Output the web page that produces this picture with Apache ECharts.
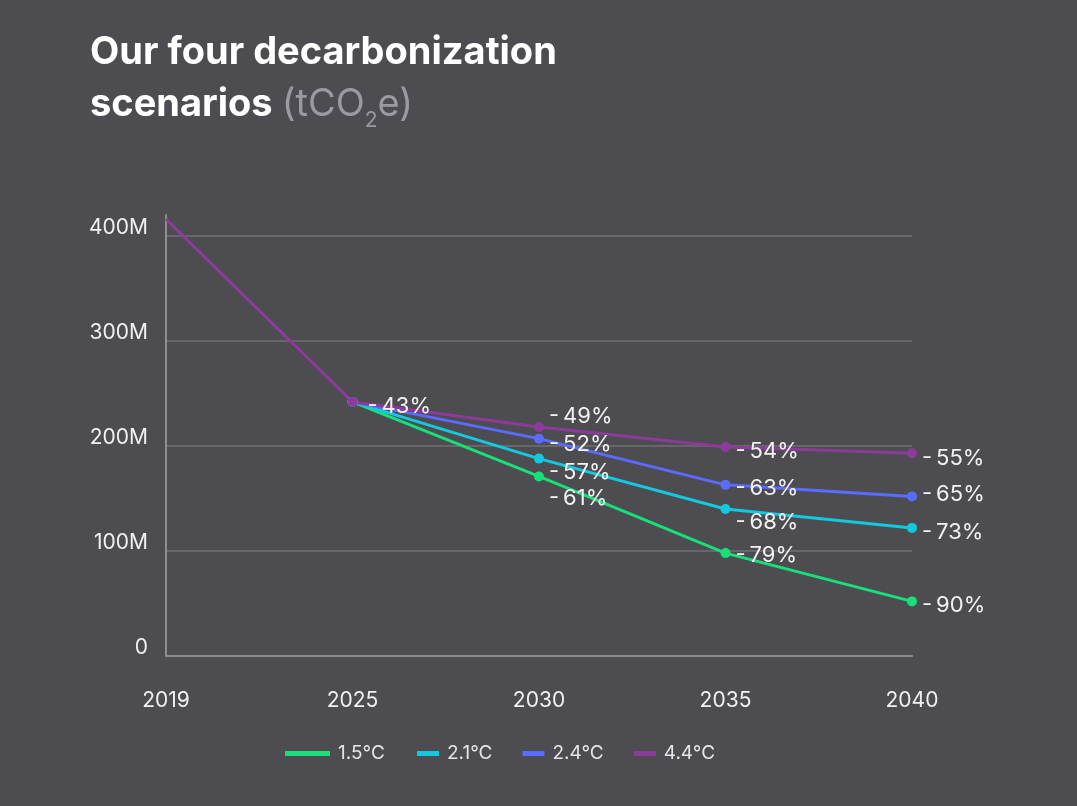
<!DOCTYPE html>
<html>
<head>
<meta charset="utf-8">
<script src="https://cdn.jsdelivr.net/npm/echarts@6/dist/echarts.min.js"></script>
<style>
  html, body { margin: 0; padding: 0; background: #4d4c51; }
  #chart { width: 1077px; height: 806px; }
</style>
</head>
<body>
<div id="chart"></div>
<script>
// data (million tCO2e)
const years = ['2019', '2025', '2030', '2035', '2040'];
const s15 = [null, 242, 171, 98, 52];
const s21 = [null, 242, 188, 140, 122];
const s24 = [null, 242, 207, 163, 152];
const s44 = [416, 242, 218, 199, 193];
const lbl15 = ['', '', '-61%', '-79%', '-90%'];
const lbl21 = ['', '', '-57%', '-68%', '-73%'];
const lbl24 = ['', '', '-52%', '-63%', '-65%'];
const lbl44 = ['', '-43%', '-49%', '-54%', '-55%'];
const yTicks = [0, 100, 200, 300, 400];

// label nudges (px) so the crowded 2030 / 2035 labels stack like the original
const nudge15 = [0, 0, 22, 2, 4];
const nudge21 = [0, 0, 14, 13, 4];
const nudge24 = [0, 0, 6, 4, -2];
const nudge44 = [0, 4, -11, 4, 5];

const FONT = 'Inter, "Noto Sans", sans-serif';

function makeSeries(name, color, values, labels, nudge) {
  return {
    name: name,
    type: 'line',
    color: color,
    symbol: 'circle',
    symbolSize: 10,
    lineStyle: { width: 3, color: color },
    itemStyle: { color: color },
    data: values.map((v, i) => ({
      value: v,
      symbol: i === 0 ? 'none' : 'circle',
      label: { offset: [i === 1 ? 5 : 0, nudge[i]] }
    })),
    label: {
      show: true,
      position: 'right',
      distance: 5,
      color: '#f2f2f2',
      fontFamily: FONT,
      fontSize: 22,
      // the hyphen sits a little apart from the number in the original
      formatter: p => labels[p.dataIndex].replace('-', '-\u2009')
    },
    emphasis: { disabled: true }
  };
}

const chart = echarts.init(document.getElementById('chart'));

const legendText = { color: '#e6e6e6', fontFamily: FONT, fontSize: 19, padding: [0, 0, 0, 3] };

chart.setOption({
  backgroundColor: '#4d4c51',
  animation: false,
  title: {
    left: 85,
    top: 22,
    text: '{a|Our four decarbonization}\n{a|scenarios }{b|(tCO}{s|2}{b|e)}',
    textStyle: {
      rich: {
        a: { fontFamily: FONT, fontSize: 38, fontWeight: 'bold', color: '#ffffff', lineHeight: 52 },
        b: { fontFamily: FONT, fontSize: 38, fontWeight: 'normal', color: '#9b9aa0', lineHeight: 52 },
        s: { fontFamily: FONT, fontSize: 21, fontWeight: 'normal', color: '#9b9aa0', lineHeight: 20, verticalAlign: 'bottom' }
      }
    }
  },
  legend: [
    {
      data: ['1.5°C'],
      left: 285,
      top: 744,
      padding: 0,
      icon: 'rect',
      itemWidth: 45,
      itemHeight: 5,
      textStyle: legendText,
      selectedMode: false
    },
    {
      data: ['2.1°C', '2.4°C', '4.4°C'],
      left: 417,
      top: 744,
      padding: 0,
      icon: 'rect',
      itemWidth: 22,
      itemHeight: 5,
      itemGap: 30,
      textStyle: legendText,
      selectedMode: false
    }
  ],
  grid: { left: 166, right: 165, top: 215, bottom: 150, containLabel: false },
  xAxis: {
    type: 'category',
    data: years,
    boundaryGap: false,
    axisLine: { lineStyle: { color: '#8e8d92', width: 2 } },
    axisTick: { show: false },
    axisLabel: { color: '#f0f0f0', fontFamily: FONT, fontSize: 21, margin: 34 },
    splitLine: { show: false }
  },
  yAxis: {
    type: 'value',
    min: 0,
    max: 420,
    interval: 100,
    axisLine: { show: true, lineStyle: { color: '#8e8d92', width: 2 } },
    axisTick: { show: false },
    axisLabel: {
      color: '#f0f0f0',
      fontFamily: FONT,
      fontSize: 21,
      margin: 18,
      // labels sit a little above their grid line in the original
      verticalAlign: 'bottom',
      lineHeight: 16,
      formatter: v => yTicks.indexOf(v) < 0 ? '' : (v === 0 ? '0' : v + 'M')
    },
    splitLine: {
      show: true,
      lineStyle: {
        width: 2,
        // last line is the padded top of the axis, which the original leaves bare
        color: ['#67666b', '#67666b', '#67666b', '#67666b', '#67666b', 'rgba(0,0,0,0)']
      }
    }
  },
  series: [
    makeSeries('1.5°C', '#17e07a', s15, lbl15, nudge15),
    makeSeries('2.1°C', '#13c9df', s21, lbl21, nudge21),
    makeSeries('2.4°C', '#5a6bff', s24, lbl24, nudge24),
    makeSeries('4.4°C', '#8d3b9b', s44, lbl44, nudge44)
  ]
});
</script>
</body>
</html>
